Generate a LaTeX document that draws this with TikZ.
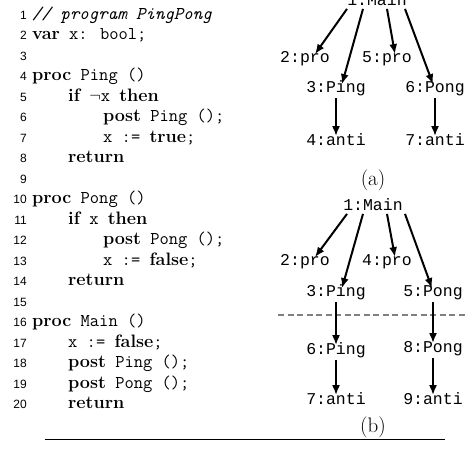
\documentclass[tikz,border=0pt]{standalone}
\usepackage{fontspec}
\newfontfamily\numfont{Liberation Sans}
\newfontfamily\treefont{Liberation Mono}
\usetikzlibrary{arrows.meta}
\newcommand\kw[1]{{\rmfamily\bfseries #1}}
\begin{document}
\begin{tikzpicture}[x=1pt,y=-1pt,
  codeline/.style={anchor=base west,inner sep=0pt,font=\ttfamily\fontsize{18}{20}\selectfont},
  numline/.style={anchor=base east,inner sep=0pt,font=\numfont\fontsize{12}{13}\selectfont},
  tn/.style={inner sep=1pt,font=\treefont\fontsize{16.5}{18}\selectfont,text height=0.72em,text depth=0.22em},
  subcap/.style={inner sep=0pt,font=\rmfamily\fontsize{21}{23}\selectfont},
  arr/.style={-{Latex[length=10pt,width=8pt]},line width=2pt},
  sepline/.style={dashed,dash pattern=on 6pt off 3.5pt,line width=1.8pt,draw=black!50}]
\useasboundingbox (0,0) rectangle (466,451);
% ---------- code ----------
\def\la{32}\def\lb{68}\def\lc{103}
\foreach \k in {1,...,20}{
  \node[numline] (n\k) at (27,{19+(\k-1)*20.5}) {\k};
}
\node[codeline] (c1) at (\la,19) {\itshape // program PingPong};
\node[codeline] (c2) at (\la,39.5) {\kw{var} x: bool;};
\node[codeline] (c4) at (\la,80.5) {\kw{proc} Ping ()};
\node[codeline] (c5) at (\lb,101) {\kw{if} $\neg$x \kw{then}};
\node[codeline] (c6) at (\lc,121.5) {\kw{post} Ping ();};
\node[codeline] (c7) at (\lc,142) {x := \kw{true};};
\node[codeline] (c8) at (\lb,162.5) {\kw{return}};
\node[codeline] (c10) at (\la,203.5) {\kw{proc} Pong ()};
\node[codeline] (c11) at (\lb,224) {\kw{if} x \kw{then}};
\node[codeline] (c12) at (\lc,244.5) {\kw{post} Pong ();};
\node[codeline] (c13) at (\lc,265) {x := \kw{false};};
\node[codeline] (c14) at (\lb,285.5) {\kw{return}};
\node[codeline] (c16) at (\la,326.5) {\kw{proc} Main ()};
\node[codeline] (c17) at (\lb,347) {x := \kw{false};};
\node[codeline] (c18) at (\lb,367.5) {\kw{post} Ping ();};
\node[codeline] (c19) at (\lb,388) {\kw{post} Pong ();};
\node[codeline] (c20) at (\lb,408.5) {\kw{return}};
% ---------- tree (a) ----------
\node[tn] (a1) at (377,3) {1:Main};
\node[tn] (a2) at (305,60) {2:pro};
\node[tn] (a5) at (387,60) {5:pro};
\node[tn] (a3) at (336,90) {3:Ping};
\node[tn] (a6) at (435,90) {6:Pong};
\node[tn] (a4) at (336,143) {4:anti};
\node[tn] (a7) at (435,143) {7:anti};
\node[subcap] (ca) at (373,180) {(a)};
\draw[arr] ([xshift=-30]a1.south) -- ([xshift=10]a2.north);
\draw[arr] ([xshift=-14]a1.south) -- ([xshift=6]a3.north);
\draw[arr] ([xshift=10]a1.south) -- ([xshift=8]a5.north);
\draw[arr] ([xshift=28]a1.south) -- ([xshift=-2]a6.north);
\draw[arr] ([yshift=-2]a3.south) -- ([yshift=1]a4.north);
\draw[arr] ([yshift=-2]a6.south) -- ([yshift=1]a7.north);
% ---------- tree (b) ----------
\node[tn] (b1) at (373,208) {1:Main};
\node[tn] (b2) at (305,263) {2:pro};
\node[tn] (b4) at (387,263) {4:pro};
\node[tn] (b3) at (336,294) {3:Ping};
\node[tn] (b5) at (433,294) {5:Pong};
\node[tn] (b6) at (336,352) {6:Ping};
\node[tn] (b8) at (433,350) {8:Pong};
\node[tn] (b7) at (336,402) {7:anti};
\node[tn] (b9) at (433,402) {9:anti};
\node[subcap] (cb) at (373,427) {(b)};
\coordinate (dl) at (278,315);
\coordinate (dr) at (466,315);
\draw[sepline] (dl) -- (dr);
\draw[arr] ([xshift=-26]b1.south) -- ([xshift=10]b2.north);
\draw[arr] ([xshift=-10]b1.south) -- ([xshift=6]b3.north);
\draw[arr] ([xshift=14]b1.south) -- ([xshift=8]b4.north);
\draw[arr] ([xshift=32]b1.south) -- ([xshift=-1]b5.north);
\draw[arr] ([yshift=-2]b3.south) -- ([yshift=1]b6.north);
\draw[arr] ([yshift=-2]b5.south) -- ([yshift=1]b8.north);
\draw[arr] ([yshift=-2]b6.south) -- ([yshift=1]b7.north);
\draw[arr] ([yshift=-2]b8.south) -- ([yshift=1]b9.north);
% ---------- rule ----------
\coordinate (rl) at (45,439);
\coordinate (rr) at (445,439);
\draw[line width=0.8pt] (rl) -- (rr);
\end{tikzpicture}
\end{document}
